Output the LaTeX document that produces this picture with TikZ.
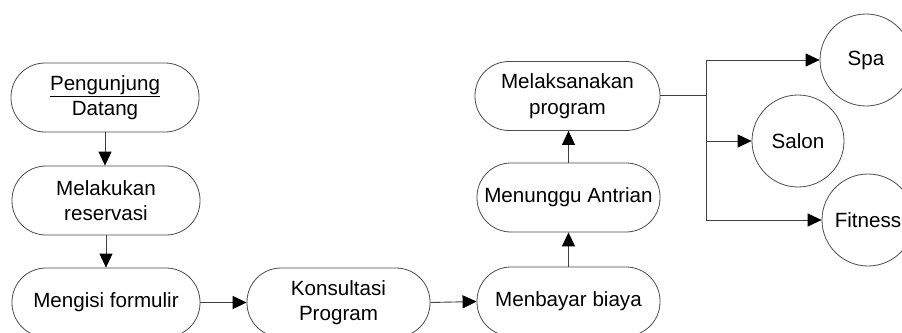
\documentclass[tikz,border=0pt]{standalone}
\usepackage{fontspec}
\setmainfont{Liberation Sans}
\usetikzlibrary{arrows.meta}
\begin{document}
\begin{tikzpicture}[x=1pt,y=-1pt,
  every node/.style={font=\fontsize{20.6}{25.5}\selectfont, text=black},
  pill/.style={draw=black!70, line width=0.8pt, rectangle, rounded corners=34pt,
    minimum height=69pt, align=center, inner sep=0pt},
  bubble/.style={draw=black!70, line width=0.8pt, circle, minimum size=92pt, inner sep=0pt},
  link/.style={draw=black!75, line width=0.9pt, -{Triangle[length=14pt,width=13pt,color=black]}},
  plain/.style={draw=black!75, line width=0.9pt}]
\clip (0,0) rectangle (902,332);
\fill[white] (0,0) rectangle (902,332);

% left column
\node[pill, minimum width=188pt] (pd) at (105,97.5) {\underline{Pengunjung}\\Datang};
\node[pill, minimum width=188pt] (mr) at (106,200.5) {Melakukan\\reservasi};
\node[pill, minimum width=188pt] (mf) at (106,302.5) {Mengisi formulir};

% bottom row and right column
\node[pill, minimum width=183pt] (kp) at (338.5,302.5) {Konsultasi\\Program};
\node[pill, minimum width=183pt] (mb) at (568.5,301.5) {Menbayar biaya};
\node[pill, minimum width=183pt] (ma) at (568.5,197.5) {Menunggu Antrian};
\node[pill, minimum width=185pt] (mp) at (567.5,96) {Melaksanakan\\program};

% services
\node[bubble] (spa) at (866,60) {Spa};
\node[bubble] (salon) at (798,141) {Salon};
\node[bubble] (fit) at (868,220) {Fitness};

% flow
\draw[link] (pd.south) -- (pd.south |- mr.north);
\draw[link] (mr.south) -- (mr.south |- mf.north);
\draw[link] (mf.east) -- (kp.west);
\draw[link] (kp.east) -- (mb.west);
\draw[link] (mb.north) -- (mb.north |- ma.south);
\draw[link] (ma.north) -- (ma.north |- mp.south);

% branch to services
\coordinate (j) at (706,95);
\draw[plain] (mp.east |- j) -- (j);
\draw[link] (j) |- (spa.west);
\draw[link] (j) |- (salon.west);
\draw[link] (j) |- (fit.west);
\end{tikzpicture}
\end{document}
